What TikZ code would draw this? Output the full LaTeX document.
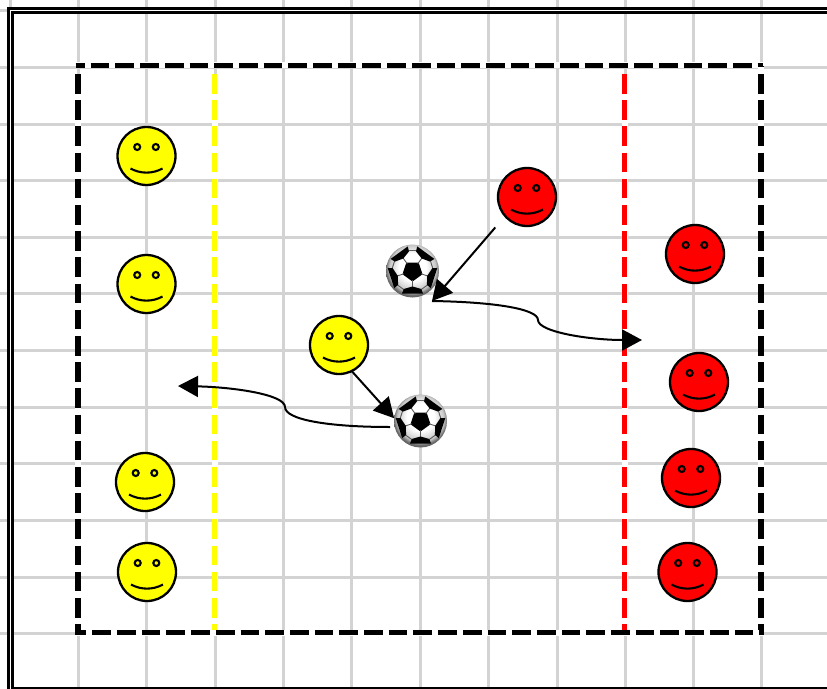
\documentclass[tikz,border=0pt]{standalone}
\usepackage{tikz}
\usetikzlibrary{arrows.meta}
\definecolor{fGrid}{HTML}{D3D3D3}
\definecolor{fYellowFill}{HTML}{FFFF00}
\pgfdeclareradialshading{ballShade}{\pgfpoint{0pt}{5pt}}{color(0pt)=(white); color(13pt)=(white); color(22pt)=(black!22); color(25.5pt)=(black!60); color(50pt)=(black!60)}
\tikzstyle{fFace} = [circle, minimum size=58pt, inner sep=0pt, outer sep=0pt, draw=black, line width=2.3pt, path picture={
    \begin{scope}[shift={(path picture bounding box.center)}, y=1pt, line width=2.1pt]
        \draw (-9.3,9) circle (3);
        \draw (9.3,9) circle (3);
        \draw (-16,-12.5) .. controls (-6,-18) and (6,-18) .. (16,-12.5);
    \end{scope}}]
\tikzstyle{fYellow} = [fFace, fill=fYellowFill]
\tikzstyle{fRed} = [fFace, fill=red]
\tikzstyle{fBall} = [circle, minimum size=53pt, inner sep=0pt, outer sep=0pt, shading=ballShade, path picture={
    \begin{scope}[shift={(path picture bounding box.center)}, y=1pt, line width=0.9pt, draw=black!65]
        \fill[black] (54:10.5) -- (126:10.5) -- (198:10.5) -- (270:10.5) -- (342:10.5) -- cycle;
        \foreach \a in {54,126,198,270,342} {
            \draw (\a:9) -- (\a:18);
            \draw (\a+25:20.5) -- (\a+47:20.5);
            \fill[black] (\a:15.5) -- (\a+26:20) -- (\a+25:25) -- (\a-25:25) -- (\a-26:20) -- cycle;
        }
    \end{scope}}]
\tikzstyle{fPass} = [line width=2pt, black, -{Triangle[length=20pt,width=21pt]}]
\tikzstyle{fDashH} = [line width=5.6pt, dash pattern=on 18.7pt off 6pt, preaction={draw=white, solid, line width=6pt}]
\tikzstyle{fDashV} = [line width=5.6pt, dash pattern=on 19.5pt off 6.7pt, preaction={draw=white, solid, line width=6pt}]
\begin{document}
\begin{tikzpicture}[x=1pt, y=-1pt]
    \useasboundingbox (0,0) rectangle (827,688);
    % grid
    \foreach \x in {10,78.5,146.5,215,283,351.5,420,488.5,557,625.5,693.5,761.5}
        \draw[fGrid, line width=3pt] (\x,0) -- (\x,688);
    \foreach \y in {10,67.5,124,180.5,237,293.5,350,407,463.5,520,577,633.5}
        \draw[fGrid, line width=3pt] (0,\y) -- (827,\y);
    \draw[line width=3pt, double=white, double distance=1.2pt] (10.7,900) -- (10.7,10.3) -- (900,10.3) -- (900,690.5) -- (10.7,690.5);

    % goal lines and pitch
    \draw[fDashV, fYellowFill] (214.6,74) -- (214.6,632);
    \draw[fDashV, red] (624.5,74) -- (624.5,632);
    \draw[fDashH, dash phase=9.5pt] (75.5,65.3) -- (763,65.3);
    \draw[fDashV, dash phase=18.2pt] (760.7,66) -- (760.7,635);
    \draw[fDashH, dash phase=9.4pt] (77,632.5) -- (763,632.5);
    \draw[fDashV] (77.7,74) -- (77.7,635);

    % players
    \node (yellowA) [fYellow] at (146.5,156) {};
    \node (yellowB) [fYellow] at (146.5,284) {};
    \node (yellowC) [fYellow] at (339,345) {};
    \node (yellowD) [fYellow] at (145,482) {};
    \node (yellowE) [fYellow] at (147,572) {};
    \node (redA) [fRed] at (527,197) {};
    \node (redB) [fRed] at (695,254) {};
    \node (redC) [fRed] at (699,382) {};
    \node (redD) [fRed] at (691,478) {};
    \node (redE) [fRed] at (687.5,572) {};

    % balls
    \node (ballA) [fBall] at (412.5,271) {};
    \node (ballB) [fBall] at (420.5,421) {};

    \coordinate (passA) at (432,301);
    \coordinate (shotA) at (642,340);
    \coordinate (kickB) at (390,427);
    \coordinate (shotB) at (178,386);

    \draw [fPass, shorten <=15pt] (redA.221) -- (passA);
    \draw [fPass] (yellowC.-64) -- (ballB.174);
    \draw [fPass] (passA) .. controls (495,302) and (538,309) .. (538,320) .. controls (538,332) and (590,340) .. (shotA);
    \draw [fPass] (kickB) .. controls (330,427) and (285,420) .. (285,407) .. controls (285,394) and (230,387) .. (shotB);
\end{tikzpicture}
\end{document}
